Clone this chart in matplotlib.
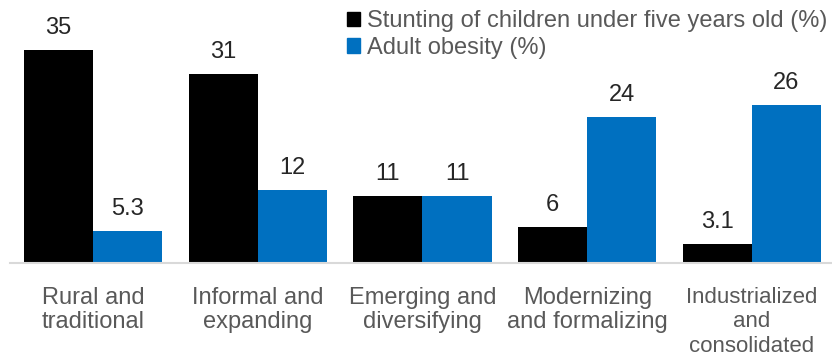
import numpy as np
import matplotlib.pyplot as plt
from matplotlib.patches import Patch

plt.rcParams['font.family'] = ['Liberation Sans', 'DejaVu Sans']

categories = ['Rural and\ntraditional', 'Informal and\nexpanding', 'Emerging and\ndiversifying',
              'Modernizing\nand formalizing', 'Industrialized\nand\nconsolidated']
stunting = [35, 31, 11, 6, 3.1]
obesity = [5.3, 12, 11, 24, 26]
stunting_labels = ['35', '31', '11', '6', '3.1']
obesity_labels = ['5.3', '12', '11', '24', '26']

black = '#000000'
blue = '#0070C0'

fig = plt.figure(figsize=(8.32, 3.58), dpi=100)
ax = fig.add_axes([0.012, 0.265, 0.988, 0.68])

x = np.arange(len(categories))
w = 0.42
b1 = ax.bar(x - w / 2, stunting, w, color=black)
b2 = ax.bar(x + w / 2, obesity, w, color=blue)

for bars, labs in ((b1, stunting_labels), (b2, obesity_labels)):
  for bar, lab in zip(bars, labs):
    ax.annotate(lab, xy=(bar.get_x() + bar.get_width() / 2, bar.get_height()),
                xytext=(0, 8), textcoords='offset points', ha='center', va='bottom',
                fontsize=17, color='#262626')

ax.set_xlim(-0.504, 4.486)
ax.set_ylim(0, 40)
ax.set_yticks([])
ax.set_xticks(x)
ax.set_xticklabels(categories, fontsize=17, color='#595959', linespacing=1.15)
ax.get_xticklabels()[-1].set_fontsize(16)
ax.get_xticklabels()[-1].set_linespacing(1.22)
ax.tick_params(axis='x', length=0, pad=17)
for s in ['top', 'right', 'left']:
  ax.spines[s].set_visible(False)
ax.spines['bottom'].set_color('#D9D9D9')
ax.spines['bottom'].set_linewidth(1.5)

handles = [Patch(color=black), Patch(color=blue)]
fig.legend(handles, ['Stunting of children under five years old (%)', 'Adult obesity (%)'],
           loc='upper left', bbox_to_anchor=(0.406, 0.998), frameon=False, fontsize=17,
           handlelength=0.55, handleheight=0.55, handletextpad=0.3, labelspacing=0.2,
           labelcolor='#595959', borderaxespad=0)

fig.savefig('out.png', dpi=100)
